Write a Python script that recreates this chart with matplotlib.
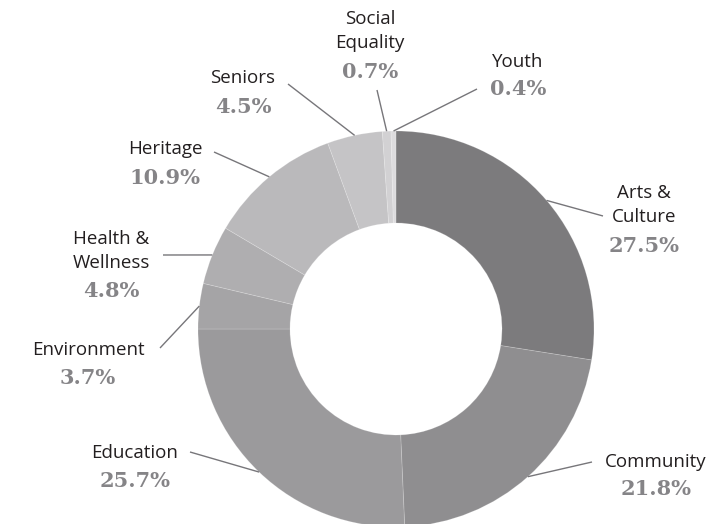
import matplotlib.pyplot as plt
import numpy as np

categories = ['Arts &\nCulture', 'Community', 'Education', 'Environment',
              'Health &\nWellness', 'Heritage', 'Seniors', 'Social\nEquality', 'Youth']
shares = [27.5, 21.8, 25.7, 3.7, 4.8, 10.9, 4.5, 0.7, 0.4]
pct_labels = ['27.5%', '21.8%', '25.7%', '3.7%', '4.8%', '10.9%', '4.5%', '0.7%', '0.4%']

colors = ['#7c7b7d', '#8f8e90', '#9b9a9c', '#a5a4a6', '#afaeb0',
          '#bab9bb', '#c5c4c6', '#d2d1d3', '#dddcde']

# layout in pixel coords (y down): label centre, leader line end
label_pos = [(644, 205), (656, 462), (135, 453), (88, 350), (111, 251),
             (165, 149), (243, 78), (370, 31), (518, 62)]
pct_pos = [(644, 246), (656, 489), (135, 481), (88, 378), (111, 291),
           (165, 178), (243, 107), (370, 72), (518, 89)]
line_end = [(603, 216), (592, 462), (190, 452), (160, 348), (163, 255),
            (214, 152), (288, 84), (377, 90), (477, 89)]

W, H = 712, 524
fig = plt.figure(figsize=(W / 100, H / 100), dpi=100)
ax = fig.add_axes([0, 0, 1, 1])

cx, cy, R = 396, H - 329, 198
wedges, _ = ax.pie(shares, colors=colors, startangle=90, counterclock=False,
                   center=(cx, cy), radius=R, frame=True,
                   wedgeprops=dict(width=R - 106, edgecolor=(1, 1, 1, 0.2), linewidth=0.6))
ax.set_xlim(0, W)
ax.set_ylim(0, H)
ax.set_aspect('equal')
ax.axis('off')

for w, lab, pct, lp, pp, le in zip(wedges, categories, pct_labels, label_pos, pct_pos, line_end):
    ang = np.deg2rad((w.theta1 + w.theta2) / 2)
    sx = cx + R * np.cos(ang)
    sy = cy + R * np.sin(ang)
    ax.plot([sx, le[0]], [sy, H - le[1]], color='#77767a', lw=1.0, solid_capstyle='butt')
    ax.text(lp[0], H - lp[1], lab, ha='center', va='center', fontsize=13.5,
            family='Open Sans', color='#231f20', linespacing=1.4)
    ax.text(pp[0], H - pp[1], pct, ha='center', va='center', fontsize=15,
            family='DejaVu Serif', weight='bold', color='#858487')

fig.savefig('out.png', dpi=100)
